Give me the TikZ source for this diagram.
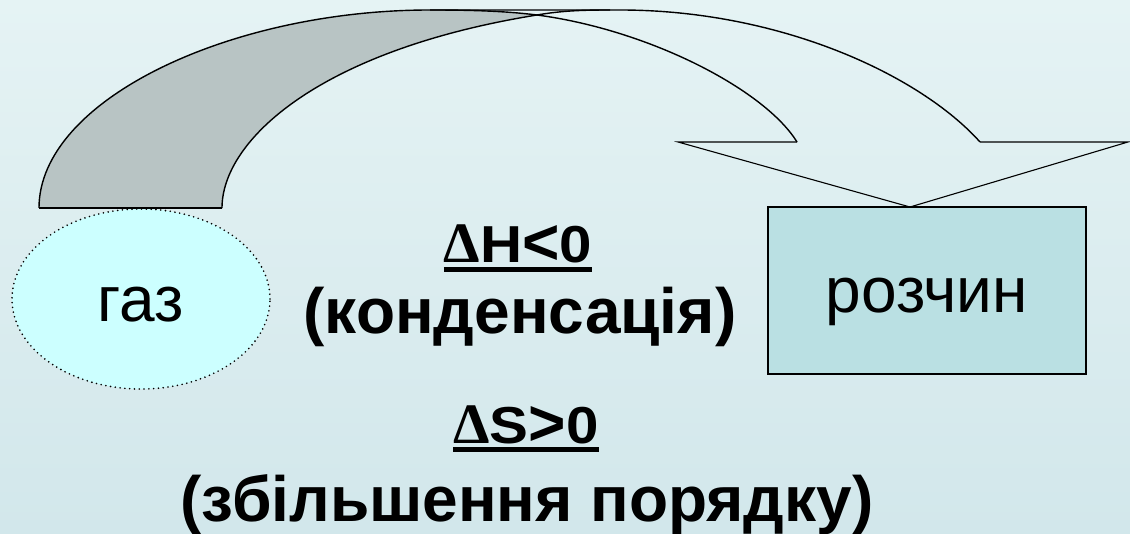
\documentclass[tikz,border=0pt]{standalone}
\usepackage{graphicx}
\usepackage{fontspec}
\setmainfont{Liberation Sans}
\newfontfamily\deltafont{Liberation Serif}
\usetikzlibrary{shapes.geometric}
\definecolor{bgtop}{RGB}{229,243,244}
\definecolor{bgbot}{RGB}{210,231,235}
\definecolor{bandgray}{RGB}{184,196,196}
\definecolor{gasfill}{RGB}{204,255,255}
\definecolor{solfill}{RGB}{186,224,227}
\newcommand\ulbox[1]{\setbox0\hbox{#1}\rlap{\rule[-9pt]{\wd0}{5pt}}\box0}
\newcommand\bigtxt{\fontsize{64}{70}\selectfont}
\newcommand\midtxt{\fontsize{52}{56}\selectfont}
\newcommand\deltamark{\scalebox{1}[1.1]{\deltafont Δ}}
\newcommand\lessmark{\raisebox{-2pt}{\scalebox{1.1}[1.25]{<}}}
\newcommand\moremark{\raisebox{-2pt}{\scalebox{1.1}[1.25]{>}}}
\begin{document}
\begin{tikzpicture}[x=1pt,y=-1pt,
  outline/.style={draw=black, line width=1.4pt, line join=miter},
  thinline/.style={draw=black, line width=1.1pt, line join=miter},
  gasshape/.style={ellipse, draw=black, line width=1.8pt, line cap=round, dash pattern=on 0pt off 4.8pt, fill=gasfill,
    minimum width=258pt, minimum height=180pt, inner sep=0pt, font=\bigtxt, text height=46pt, text depth=0pt},
  solshape/.style={rectangle, draw=black, line width=1.6pt, fill=solfill,
    minimum width=318pt, minimum height=167pt, inner sep=0pt, font=\bigtxt, text height=45pt, text depth=0pt},
  bigbold/.style={anchor=base, inner sep=0pt, font=\bigtxt\bfseries},
  midbold/.style={anchor=base, inner sep=0pt, font=\midtxt\bfseries}]
\useasboundingbox (0,0) rectangle (1130,534);
\shade[top color=bgtop, bottom color=bgbot] (0,0) rectangle (1130,534);

% curved arrow: filled front band
\fill[bandgray] (39,208) .. controls (39,100) and (230,10) .. (430,10)
  .. controls (470,10) and (505,11) .. (537,15)
  .. controls (320,50) and (222,140) .. (222,208) -- cycle;
% outer arch of left band continuing as inner edge of right band
\draw[outline] (39,208) .. controls (39,100) and (230,10) .. (430,10)
  .. controls (470,10) and (505,11) .. (537,15)
  .. controls (650,30) and (765,90) .. (797,142);
% inner edge of left band
\draw[outline] (222,208) .. controls (222,140) and (320,50) .. (537,15)
  .. controls (560,11) and (580,10) .. (610,10);
% outer edge of right band
\draw[outline] (430,10) -- (620,10) .. controls (780,10) and (920,75) .. (980,142);
% arrow head
\draw[thinline] (797,142) -- (678,142) -- (910,207) -- (1128,142) -- (980,142);
% foot
\draw[outline] (39,208) -- (222,208);

\node[gasshape] (gas) at (141,299) {газ};
\node[solshape] (sol) at (927,290.5) {розчин};

\node[midbold] (dh) at (518,263) {\ulbox{\scalebox{1.12}[1]{\deltamark H\lessmark0}}};
\node[bigbold] (cond) at (520,334) {(конденсація)};
\node[midbold] (ds) at (526,443) {\ulbox{\scalebox{1.12}[1]{\deltamark S\moremark0}}};
\node[bigbold] (order) at (527,521) {(збільшення порядку)};
\end{tikzpicture}
\end{document}
